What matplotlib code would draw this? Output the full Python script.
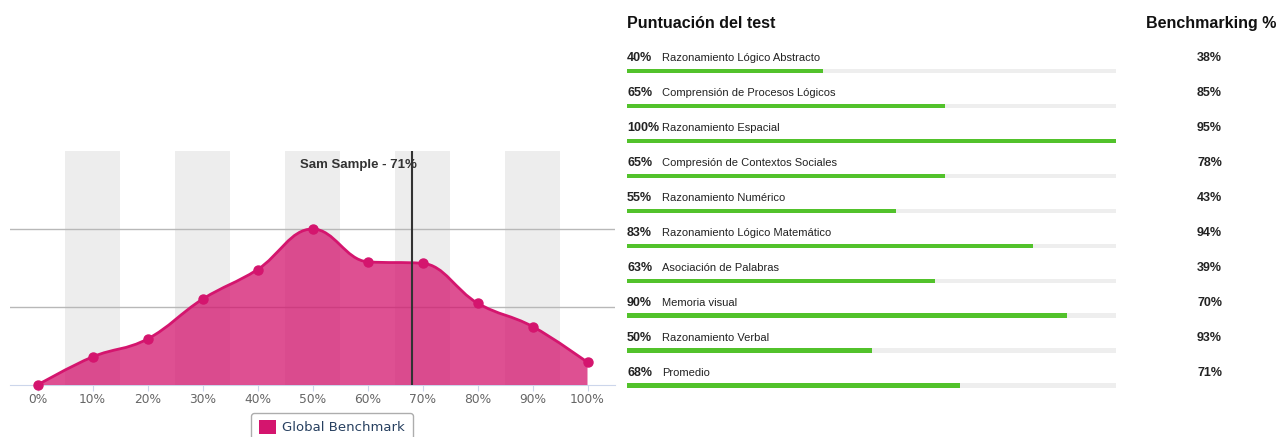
import numpy as np
import matplotlib.pyplot as plt
from matplotlib.path import Path
from matplotlib.patches import PathPatch, Patch

plt.rcParams['font.family'] = ['Liberation Sans', 'DejaVu Sans']

# distribution chart (left)
bins = [0, 10, 20, 30, 40, 50, 60, 70, 80, 90, 100]
bin_labels = ['0%', '10%', '20%', '30%', '40%', '50%', '60%', '70%', '80%', '90%', '100%']
benchmark = [0, 3.6, 5.9, 11.0, 14.8, 20.0, 15.8, 15.6, 10.5, 7.5, 2.9]
candidate_score = 68
candidate_label = 'Sam Sample - 71%'
series_name = 'Global Benchmark'

# test scores (right)
tests = [
    'Razonamiento Lógico Abstracto',
    'Comprensión de Procesos Lógicos',
    'Razonamiento Espacial',
    'Compresión de Contextos Sociales',
    'Razonamiento Numérico',
    'Razonamiento Lógico Matemático',
    'Asociación de Palabras',
    'Memoria visual',
    'Razonamiento Verbal',
    'Promedio',
]
scores = [40, 65, 100, 65, 55, 83, 63, 90, 50, 68]
benchmarking = [38, 85, 95, 78, 43, 94, 39, 70, 93, 71]

PINK = '#d4156e'
GREEN = '#52c22b'


def spline_path(xs, ys, smoothing=1.5):
    # bezier control points in the style of a highcharts spline
    n = len(xs)
    left = [(xs[i], ys[i]) for i in range(n)]
    right = [(xs[i], ys[i]) for i in range(n)]
    d = smoothing + 1
    for i in range(1, n - 1):
        x, y = xs[i], ys[i]
        lx, ly = xs[i - 1], ys[i - 1]
        nx, ny = xs[i + 1], ys[i + 1]
        lcx = (smoothing * x + lx) / d
        lcy = (smoothing * y + ly) / d
        rcx = (smoothing * x + nx) / d
        rcy = (smoothing * y + ny) / d
        corr = 0
        if rcx != lcx:
            corr = (rcy - lcy) * (rcx - x) / (rcx - lcx) + y - rcy
        lcy += corr
        rcy += corr
        if lcy > ly and lcy > y:
            lcy = max(ly, y)
            rcy = 2 * y - lcy
        elif lcy < ly and lcy < y:
            lcy = min(ly, y)
            rcy = 2 * y - lcy
        if rcy > ny and rcy > y:
            rcy = max(ny, y)
            lcy = 2 * y - rcy
        elif rcy < ny and rcy < y:
            rcy = min(ny, y)
            lcy = 2 * y - rcy
        left[i] = (lcx, lcy)
        right[i] = (rcx, rcy)
    verts = [(xs[0], ys[0])]
    codes = [Path.MOVETO]
    for i in range(1, n):
        verts += [right[i - 1], left[i], (xs[i], ys[i])]
        codes += [Path.CURVE4] * 3
    return verts, codes


fig = plt.figure(figsize=(12.78, 4.37), dpi=100)

ax = fig.add_axes([10 / 1278, 52 / 437, 605 / 1278, 234 / 437])
ax.set_xlim(-5, 105)
ax.set_ylim(0, 30)

for b in bins[1::2]:
    ax.axvspan(b - 5, b + 5, color='#ededed', lw=0, zorder=0)

ax.set_yticks([10, 20])
ax.yaxis.grid(True, color='#b8b8b8', lw=1)
ax.set_axisbelow(True)
ax.tick_params(axis='y', length=0, labelleft=False)

verts, codes = spline_path(bins, benchmark)
ax.add_patch(PathPatch(Path(verts, codes), facecolor='none', edgecolor=PINK, lw=2, zorder=4))
area_verts = verts + [(bins[-1], 0), (bins[0], 0), (bins[0], 0)]
area_codes = codes + [Path.LINETO, Path.LINETO, Path.CLOSEPOLY]
ax.add_patch(PathPatch(Path(area_verts, area_codes), facecolor=PINK, alpha=0.75, lw=0, zorder=3))
ax.plot(bins, benchmark, 'o', color=PINK, ms=6.5, zorder=5, clip_on=False)

ax.axvline(candidate_score, color='#333333', lw=1.5, zorder=6)
ax.text(candidate_score + 1, 0.94, candidate_label, transform=ax.get_xaxis_transform(),
        ha='right', va='center', fontsize=9.5, fontweight='bold', color='#333333', zorder=7)

ax.set_xticks(bins)
ax.set_xticklabels(bin_labels, family='DejaVu Sans', fontsize=8.8, color='#666666')
ax.tick_params(axis='x', length=4, color='#ccd6eb', pad=2)
for s in ['top', 'right', 'left']:
    ax.spines[s].set_visible(False)
ax.spines['bottom'].set_color('#ccd6eb')

leg = fig.legend(handles=[Patch(facecolor=PINK, label=series_name)],
                 loc='upper center', bbox_to_anchor=(332 / 1278, 24 / 437),
                 borderaxespad=0, frameon=True, fancybox=True, edgecolor='#999999',
                 prop={'family': 'DejaVu Sans', 'size': 9.5},
                 handlelength=1.3, handleheight=1.2, handletextpad=0.5,
                 borderpad=0.55)
leg.get_frame().set_linewidth(1)
for t in leg.get_texts():
    t.set_color('#274060')

# right panel
axr = fig.add_axes([627 / 1278, 0, 489 / 1278, 1])
axr.set_xlim(0, 100)
axr.set_ylim(10.46, -2.03)
axr.axis('off')

rows = np.arange(len(tests))
axr.barh(rows, [100] * len(tests), height=0.14, color='#eeeeee')
axr.barh(rows, scores, height=0.14, color=GREEN)

for r, name, s, b in zip(rows, tests, scores, benchmarking):
    axr.text(0, r - 0.37, f'{s}%', fontsize=9, fontweight='bold', va='center', color='#222222')
    axr.text(7.2, r - 0.37, name, fontsize=8, va='center', color='#222222')
    axr.text(121.7, r - 0.37, f'{b}%', fontsize=9, fontweight='bold', va='center',
             ha='right', color='#222222')

axr.text(0, -1.37, 'Puntuación del test', fontsize=11.5, fontweight='bold', va='center',
         color='#111111')
axr.text(132.7, -1.37, 'Benchmarking %', fontsize=11.5, fontweight='bold', va='center',
         ha='right', color='#111111')

fig.savefig('out.png', dpi=100)
